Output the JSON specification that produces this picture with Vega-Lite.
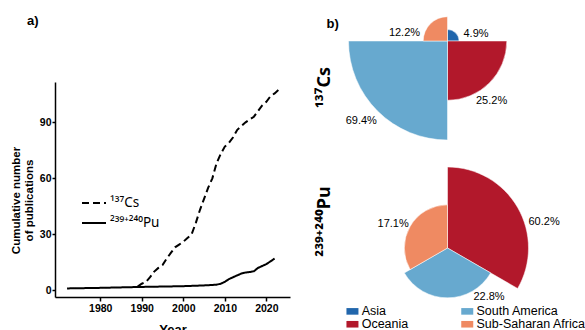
{
  "$schema": "https://vega.github.io/schema/vega-lite/v6.json",
  "padding": {"left": 10, "top": 15, "right": 0, "bottom": 0},
  "background": "white",
  "config": {
    "font": "Liberation Sans",
    "view": {"stroke": null},
    "axis": {"grid": false, "domainColor": "black", "tickColor": "black", "labelColor": "black", "titleColor": "black", "labelFontWeight": "bold", "titleFontWeight": "bold", "domainWidth": 1.5, "tickWidth": 1.5},
    "title": {"color": "black"}
  },
  "datasets": {
    "lines": [
      {"series": "¹³⁷Cs", "year": 1989, "count": 2},
      {"series": "¹³⁷Cs", "year": 1990, "count": 3.5},
      {"series": "¹³⁷Cs", "year": 1991, "count": 4.5},
      {"series": "¹³⁷Cs", "year": 1992, "count": 7},
      {"series": "¹³⁷Cs", "year": 1993, "count": 10},
      {"series": "¹³⁷Cs", "year": 1994, "count": 12},
      {"series": "¹³⁷Cs", "year": 1995, "count": 13.5},
      {"series": "¹³⁷Cs", "year": 1996, "count": 17},
      {"series": "¹³⁷Cs", "year": 1997, "count": 20},
      {"series": "¹³⁷Cs", "year": 1998, "count": 23},
      {"series": "¹³⁷Cs", "year": 1999, "count": 24.5},
      {"series": "¹³⁷Cs", "year": 2000, "count": 26},
      {"series": "¹³⁷Cs", "year": 2001, "count": 28},
      {"series": "¹³⁷Cs", "year": 2002, "count": 30},
      {"series": "¹³⁷Cs", "year": 2003, "count": 36},
      {"series": "¹³⁷Cs", "year": 2004, "count": 43},
      {"series": "¹³⁷Cs", "year": 2005, "count": 49},
      {"series": "¹³⁷Cs", "year": 2006, "count": 55},
      {"series": "¹³⁷Cs", "year": 2007, "count": 60},
      {"series": "¹³⁷Cs", "year": 2008, "count": 68},
      {"series": "¹³⁷Cs", "year": 2009, "count": 73},
      {"series": "¹³⁷Cs", "year": 2010, "count": 77},
      {"series": "¹³⁷Cs", "year": 2011, "count": 79},
      {"series": "¹³⁷Cs", "year": 2012, "count": 82},
      {"series": "¹³⁷Cs", "year": 2013, "count": 86},
      {"series": "¹³⁷Cs", "year": 2014, "count": 88},
      {"series": "¹³⁷Cs", "year": 2015, "count": 90},
      {"series": "¹³⁷Cs", "year": 2016, "count": 91.5},
      {"series": "¹³⁷Cs", "year": 2017, "count": 93},
      {"series": "¹³⁷Cs", "year": 2018, "count": 96},
      {"series": "¹³⁷Cs", "year": 2019, "count": 99},
      {"series": "¹³⁷Cs", "year": 2020, "count": 101},
      {"series": "¹³⁷Cs", "year": 2021, "count": 104},
      {"series": "¹³⁷Cs", "year": 2022, "count": 105.5},
      {"series": "¹³⁷Cs", "year": 2023, "count": 107.5},
      {"series": "²³⁹⁺²⁴⁰Pu", "year": 1972, "count": 1},
      {"series": "²³⁹⁺²⁴⁰Pu", "year": 1980, "count": 1.3},
      {"series": "²³⁹⁺²⁴⁰Pu", "year": 1990, "count": 1.8},
      {"series": "²³⁹⁺²⁴⁰Pu", "year": 2000, "count": 2.2},
      {"series": "²³⁹⁺²⁴⁰Pu", "year": 2005, "count": 2.6},
      {"series": "²³⁹⁺²⁴⁰Pu", "year": 2008, "count": 3},
      {"series": "²³⁹⁺²⁴⁰Pu", "year": 2009, "count": 3.5},
      {"series": "²³⁹⁺²⁴⁰Pu", "year": 2010, "count": 4.5},
      {"series": "²³⁹⁺²⁴⁰Pu", "year": 2011, "count": 6},
      {"series": "²³⁹⁺²⁴⁰Pu", "year": 2012, "count": 7},
      {"series": "²³⁹⁺²⁴⁰Pu", "year": 2013, "count": 8},
      {"series": "²³⁹⁺²⁴⁰Pu", "year": 2014, "count": 9},
      {"series": "²³⁹⁺²⁴⁰Pu", "year": 2015, "count": 9.5},
      {"series": "²³⁹⁺²⁴⁰Pu", "year": 2016, "count": 9.8},
      {"series": "²³⁹⁺²⁴⁰Pu", "year": 2017, "count": 10.2},
      {"series": "²³⁹⁺²⁴⁰Pu", "year": 2018, "count": 12},
      {"series": "²³⁹⁺²⁴⁰Pu", "year": 2019, "count": 13},
      {"series": "²³⁹⁺²⁴⁰Pu", "year": 2020, "count": 14},
      {"series": "²³⁹⁺²⁴⁰Pu", "year": 2021, "count": 15.5},
      {"series": "²³⁹⁺²⁴⁰Pu", "year": 2022, "count": 17}
    ],
    "shares": [
      {"isotope": "¹³⁷Cs", "region": "Asia", "share": 0.049},
      {"isotope": "¹³⁷Cs", "region": "Oceania", "share": 0.252},
      {"isotope": "¹³⁷Cs", "region": "South America", "share": 0.694},
      {"isotope": "¹³⁷Cs", "region": "Sub-Saharan Africa", "share": 0.122},
      {"isotope": "²³⁹⁺²⁴⁰Pu", "region": "Oceania", "share": 0.602},
      {"isotope": "²³⁹⁺²⁴⁰Pu", "region": "South America", "share": 0.228},
      {"isotope": "²³⁹⁺²⁴⁰Pu", "region": "Sub-Saharan Africa", "share": 0.171}
    ]
  },
  "bounds": "flush",
  "center": true,
  "spacing": 41.5,
  "resolve": {"scale": {"color": "independent", "strokeDash": "independent"}, "legend": {"color": "independent", "strokeDash": "independent"}},
  "hconcat": [
    {
      "width": 235,
      "height": 215,
      "data": {"name": "lines"},
      "title": {"text": "a)", "anchor": "start", "frame": "group", "offset": 54, "dx": -28, "fontSize": 13, "fontWeight": "bold"},
      "mark": {"type": "line", "color": "black", "strokeWidth": 2},
      "encoding": {
        "x": {"field": "year", "type": "quantitative", "scale": {"domain": [1969.1, 2025.7], "nice": false, "zero": false},
          "axis": {"values": [1980, 1990, 2000, 2010, 2020], "format": "d", "labelFontSize": 10.5, "tickSize": 4, "labelPadding": 2, "title": "Year", "titleFontSize": 13, "titlePadding": 10}},
        "y": {"field": "count", "type": "quantitative", "scale": {"domain": [-3.6, 111.6], "nice": false, "zero": false},
          "axis": {"values": [0, 30, 60, 90], "labelFontSize": 10.5, "tickSize": 3, "labelPadding": 1, "title": ["Cumulative number", "of publications"], "titleFontSize": 11.5, "titleLineHeight": 13, "titlePadding": 5, "titleY": 118}},
        "strokeDash": {"field": "series", "type": "nominal", "scale": {"domain": ["¹³⁷Cs", "²³⁹⁺²⁴⁰Pu"], "range": [[7, 4], [1, 0]]},
          "legend": {"orient": "none", "legendX": 26, "legendY": 108, "title": null, "symbolType": "stroke", "symbolSize": 576, "symbolStrokeWidth": 2, "symbolStrokeColor": "black", "labelFont": "Noto Sans", "labelFontSize": 13.5, "labelColor": "black", "labelOffset": 3, "rowPadding": -3}}
      }
    },
    {
      "width": 232,
      "height": 297,
      "data": {"name": "shares"},
      "title": {"text": "b)", "anchor": "start", "frame": "group", "offset": -15, "dx": -5, "fontSize": 13, "fontWeight": "bold"},
      "layer": [
        {
          "mark": {"type": "point", "opacity": 0},
          "encoding": {
            "y": {"field": "isotope", "type": "nominal", "scale": {"type": "point", "domain": ["¹³⁷Cs", "²³⁹⁺²⁴⁰Pu"], "padding": 0.6082, "align": 0.2822},
              "axis": {"orient": "left", "labelAngle": 270, "labelFont": "Noto Sans", "labelFontSize": 18, "labelFontWeight": "bold", "domain": false, "ticks": false, "title": null, "labelAlign": "center", "labelBaseline": "alphabetic", "labelPadding": 2}}
          }
        },
        {
          "transform": [{"filter": "datum.isotope === '¹³⁷Cs'"}],
          "mark": {"type": "arc", "stroke": "white", "strokeWidth": 0.5},
          "encoding": {
            "theta": {"field": "region", "type": "nominal", "scale": {"type": "band", "paddingInner": 0, "paddingOuter": 0}},
            "radius": {"field": "share", "type": "quantitative", "scale": {"type": "linear", "domain": [0, 0.049, 0.122, 0.252, 0.694], "range": [0, 11.5, 24.3, 59.3, 99]}},
            "y": {"field": "isotope", "type": "nominal", "scale": {"type": "point", "domain": ["¹³⁷Cs", "²³⁹⁺²⁴⁰Pu"], "padding": 0.2174, "align": 0}, "axis": null},
            "color": {"field": "region", "type": "nominal",
              "scale": {"domain": ["Asia", "Oceania", "South America", "Sub-Saharan Africa"], "range": ["#2166ac", "#b2182b", "#67a9cf", "#ef8a62"]},
              "legend": {"orient": "none", "legendX": 14.7, "legendY": 264, "columns": 2, "columnPadding": 51.8, "title": null, "symbolType": "M-1,-0.55H1V0.55H-1Z", "symbolSize": 144, "symbolStrokeWidth": 0, "labelFontSize": 12.5, "labelColor": "black", "labelOffset": 3, "rowPadding": -0.5}}
          }
        },
        {
          "transform": [{"filter": "datum.isotope === '²³⁹⁺²⁴⁰Pu'"}],
          "mark": {"type": "arc", "stroke": "white", "strokeWidth": 0.5},
          "encoding": {
            "theta": {"field": "region", "type": "nominal", "scale": {"type": "band", "paddingInner": 0, "paddingOuter": 0}},
            "radius": {"field": "share", "type": "quantitative", "scale": {"type": "sqrt", "domain": [0, 0.602], "range": [0, 81]}},
            "y": {"field": "isotope", "type": "nominal", "scale": {"type": "point", "domain": ["¹³⁷Cs", "²³⁹⁺²⁴⁰Pu"], "padding": 0.2174, "align": 0}, "axis": null},
            "color": {"field": "region", "type": "nominal"}
          }
        },
        {
          "transform": [{"filter": "datum.isotope === '¹³⁷Cs'"}],
          "encoding": {
            "theta": {"field": "region", "type": "nominal", "scale": {"type": "band", "paddingInner": 0, "paddingOuter": 0}},
            "radius": {"field": "share", "type": "quantitative", "scale": {"type": "linear", "domain": [0, 0.049, 0.122, 0.252, 0.694], "range": [0, 11.5, 24.3, 59.3, 99]}},
            "y": {"field": "isotope", "type": "nominal", "scale": {"type": "point", "domain": ["¹³⁷Cs", "²³⁹⁺²⁴⁰Pu"], "padding": 0.2174, "align": 0}, "axis": null},
            "text": {"field": "share", "type": "quantitative", "format": ".1%"}
          },
          "layer": [
            {"transform": [{"filter": "datum.region === 'Asia'"}], "mark": {"type": "text", "thetaOffset": 0.529, "radiusOffset": 18, "fontSize": 11, "align": "center", "baseline": "middle", "color": "black"}},
            {"transform": [{"filter": "datum.region === 'Oceania'"}], "mark": {"type": "text", "thetaOffset": 0.155, "radiusOffset": 15.5, "fontSize": 11, "align": "center", "baseline": "middle", "color": "black"}},
            {"transform": [{"filter": "datum.region === 'South America'"}], "mark": {"type": "text", "thetaOffset": 0.037, "radiusOffset": 18.7, "fontSize": 11, "align": "center", "baseline": "middle", "color": "black"}},
            {"transform": [{"filter": "datum.region === 'Sub-Saharan Africa'"}], "mark": {"type": "text", "thetaOffset": -0.597, "radiusOffset": 19.5, "fontSize": 11, "align": "center", "baseline": "middle", "color": "black"}}
          ]
        },
        {
          "transform": [{"filter": "datum.isotope === '²³⁹⁺²⁴⁰Pu'"}],
          "encoding": {
            "theta": {"field": "region", "type": "nominal", "scale": {"type": "band", "paddingInner": 0, "paddingOuter": 0}},
            "radius": {"field": "share", "type": "quantitative", "scale": {"type": "sqrt", "domain": [0, 0.602], "range": [0, 81]}},
            "y": {"field": "isotope", "type": "nominal", "scale": {"type": "point", "domain": ["¹³⁷Cs", "²³⁹⁺²⁴⁰Pu"], "padding": 0.2174, "align": 0}, "axis": null},
            "text": {"field": "share", "type": "quantitative", "format": ".1%"}
          },
          "layer": [
            {"transform": [{"filter": "datum.region === 'Oceania'"}], "mark": {"type": "text", "thetaOffset": 0.265, "radiusOffset": 18.9, "fontSize": 11, "align": "center", "baseline": "middle", "color": "black"}},
            {"transform": [{"filter": "datum.region === 'South America'"}], "mark": {"type": "text", "thetaOffset": -0.7, "radiusOffset": 14.6, "fontSize": 11, "align": "center", "baseline": "middle", "color": "black"}},
            {"transform": [{"filter": "datum.region === 'Sub-Saharan Africa'"}], "mark": {"type": "text", "thetaOffset": -0.103, "radiusOffset": 16.4, "fontSize": 11, "align": "center", "baseline": "middle", "color": "black"}}
          ]
        }
      ],
      "resolve": {"scale": {"theta": "independent", "radius": "independent", "y": "independent"}, "axis": {"y": "independent"}}
    }
  ]
}
